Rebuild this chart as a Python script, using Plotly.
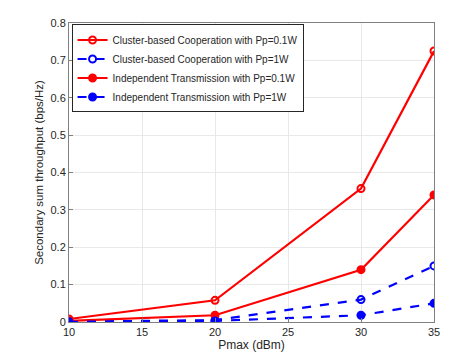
import plotly.graph_objects as go

pmax = [10, 20, 30, 35]
coop_pp01 = [0.008, 0.058, 0.357, 0.725]
coop_pp1 = [0.001, 0.005, 0.060, 0.150]
indep_pp01 = [0.003, 0.018, 0.140, 0.340]
indep_pp1 = [0.0005, 0.003, 0.018, 0.050]

names = ['Cluster-based Cooperation with Pp=0.1W',
         'Cluster-based Cooperation with Pp=1W',
         'Independent Transmission with Pp=0.1W',
         'Independent Transmission with Pp=1W']

fig = go.Figure()
series = [
    (coop_pp01, 'red', 'solid', 'circle-open'),
    (coop_pp1, 'blue', 'dash', 'circle-open'),
    (indep_pp01, 'red', 'solid', 'circle'),
    (indep_pp1, 'blue', 'dash', 'circle'),
]
for (vals, col, dash, sym), nm in zip(series, names):
    fig.add_trace(go.Scatter(
        x=pmax, y=vals, name=nm, mode='lines+markers',
        line=dict(color=col, width=2.2, dash=dash),
        marker=dict(symbol=sym, size=7, color=col, line=dict(color=col, width=2)),
    ))

axis_common = dict(showline=True, linecolor='#808080', linewidth=1, mirror=True,
                   showgrid=True, gridcolor='#e8e8e8', ticks='inside', ticklen=4,
                   tickcolor='#808080', zeroline=False,
                   tickfont=dict(size=11, color='#262626'))

fig.update_layout(
    width=471, height=353,
    margin=dict(l=61, r=45, t=9, b=39),
    plot_bgcolor='white', paper_bgcolor='white',
    font=dict(family='Liberation Sans, Arial, sans-serif', color='#262626'),
    showlegend=True,
    legend=dict(x=0.007, y=0.995, xanchor='left', yanchor='top',
                bgcolor='white', bordercolor='#262626', borderwidth=1,
                font=dict(size=10), tracegroupgap=0, itemwidth=30),
    xaxis=dict(range=[10, 35], tickvals=[10, 15, 20, 25, 30, 35],
               title=dict(text='Pmax (dBm)', font=dict(size=12), standoff=2),
               **axis_common),
    yaxis=dict(range=[0, 0.8], tickvals=[0, 0.1, 0.2, 0.3, 0.4, 0.5, 0.6, 0.7, 0.8],
               ticktext=['0', '0.1', '0.2', '0.3', '0.4', '0.5', '0.6', '0.7', '0.8'],
               title=dict(text='Secondary sum throughput (bps/Hz)', font=dict(size=11.5), standoff=4),
               **axis_common),
)

fig.write_html("out.html")
